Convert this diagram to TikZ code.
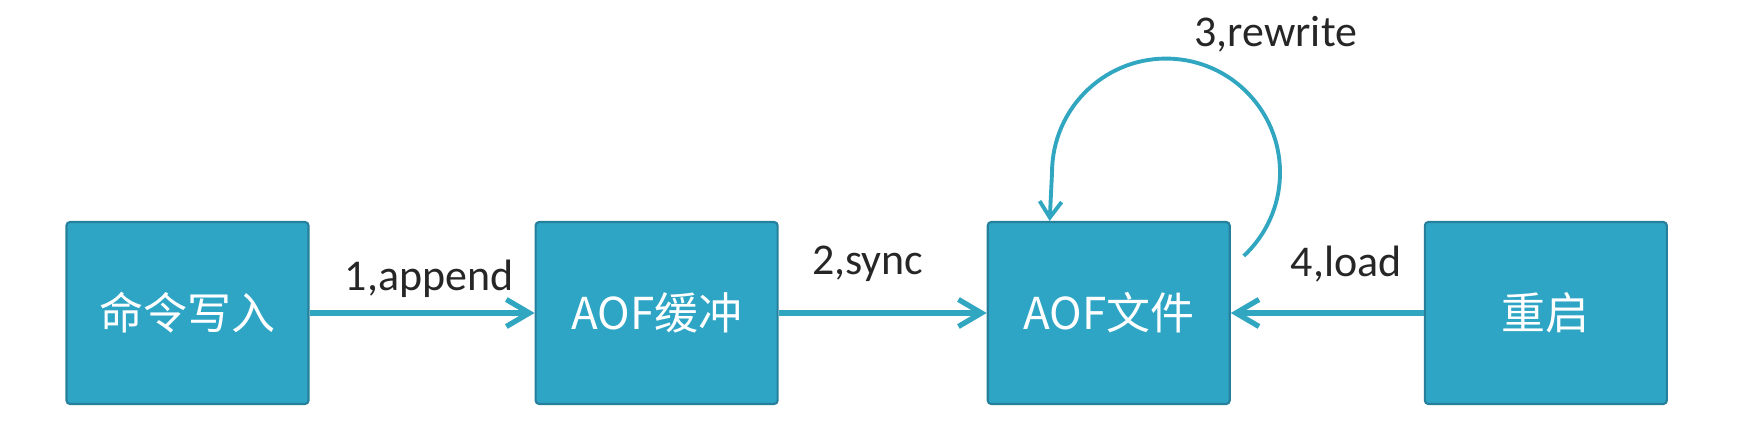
\documentclass[tikz,border=0pt]{standalone}
\usepackage{fontspec}
\setmainfont{Carlito}
\newfontfamily\cjk{Noto Sans CJK SC}
\definecolor{BoxBlue}{RGB}{46,165,197}
\definecolor{BoxEdge}{RGB}{38,128,156}
\definecolor{FlowBlue}{RGB}{48,166,192}
\usetikzlibrary{arrows.meta, positioning, calc}

\begin{document}
\begin{tikzpicture}[node distance=2cm]
        \tikzstyle{block} = [rectangle, draw=BoxEdge, fill=BoxBlue, text=white,
            font=\cjk\fontsize{12.5}{15}\selectfont, line width=0.6pt,
            minimum width=2.42cm, minimum height=1.82cm, rounded corners=1pt]
        \tikzstyle{line} = [draw=FlowBlue, line width=1.5pt, -{Straight Barb[length=2.3mm, width=2.7mm]}]
        \tikzstyle{tag} = [font=\fontsize{12.5}{15}\selectfont, text=black!85, anchor=base, inner sep=0pt]

        \useasboundingbox (0,0) rectangle (17.4,4.3);

        \node [block] (cmd) at (1.875,1.17) {命令写入};
        \node [block, right=2.25cm of cmd] (buffer) {AOF缓冲};
        \node [block, right=2.08cm of buffer] (aoffile) {AOF文件};
        \node [block, right=1.93cm of aoffile] (restart) {重启};

        \path [line] (cmd) -- node [tag, xshift=0.07cm, yshift=0.23cm] (append) {1,append} (buffer);
        \path [line] (buffer) -- node [tag, xshift=-0.15cm, yshift=0.38cm] (sync) {2,sync} (aoffile);
        \path [line] (restart) -- node [tag, xshift=0.19cm, yshift=0.36cm] (load) {4,load} (aoffile);

        % rewrite loop over the file
        \coordinate (loopstart) at ($(aoffile.north east)+(0.13,-0.35)$);
        \coordinate (loopend) at ($(aoffile.north west)+(0.63,0)$);
        \path [line, line width=1.1pt, -{Straight Barb[length=1.6mm, width=2.2mm]}]
            (loopstart) arc [start angle=-47, end angle=180, radius=1.14] -- (loopend);
        \node [tag] (rewrite) at ($(aoffile.north east)+(0.45,1.74)$) {3,rewrite};
    \end{tikzpicture}
\end{document}
